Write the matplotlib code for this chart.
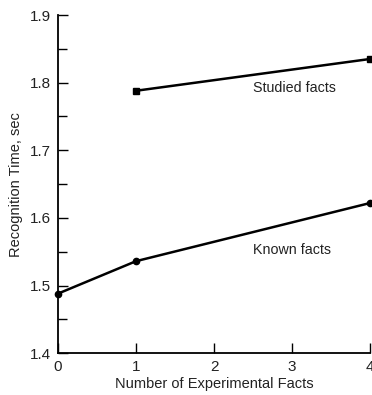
import matplotlib
matplotlib.use("Agg")
import matplotlib.pyplot as plt
from matplotlib.ticker import MultipleLocator

plt.rcParams['font.family'] = ['Liberation Sans', 'DejaVu Sans']

# Recognition time by number of experimental facts
known_x = [0, 1, 4]
known_y = [1.488, 1.536, 1.622]
studied_x = [1, 4]
studied_y = [1.788, 1.835]
x_ticks = [0, 1, 2, 3, 4]
y_ticks = [1.4, 1.5, 1.6, 1.7, 1.8, 1.9]

fig = plt.figure(figsize=(3.72, 3.95), dpi=100)
ax = fig.add_axes([0.156, 0.106, 0.839, 0.856])

ax.plot(known_x, known_y, color='black', lw=1.8, marker='o', ms=4.5,
        clip_on=False, zorder=3)
ax.plot(studied_x, studied_y, color='black', lw=1.8, marker='s', ms=4,
        clip_on=False, zorder=3)

ax.text(2.5, 1.792, 'Studied facts', fontsize=10.3, color='#222222',
        ha='left', va='center')
ax.text(2.5, 1.552, 'Known facts', fontsize=10.3, color='#222222',
        ha='left', va='center')

ax.set_xlim(0, 4)
ax.set_ylim(1.4, 1.9)
ax.set_xticks(x_ticks)
ax.set_xticklabels([str(v) for v in x_ticks])
ax.set_yticks(y_ticks)
ax.set_yticklabels([f'{v:.1f}' for v in y_ticks])
ax.yaxis.set_minor_locator(MultipleLocator(0.05))

for s in ['top', 'right']:
    ax.spines[s].set_visible(False)
for s in ['left', 'bottom']:
    ax.spines[s].set_linewidth(1.3)

ax.tick_params(axis='both', which='major', direction='in', length=7.5,
               width=1.0, labelsize=11, colors='black', labelcolor='#222222')
ax.tick_params(axis='y', which='minor', direction='in', length=6.5, width=1.0)
ax.tick_params(axis='x', pad=5)
ax.tick_params(axis='y', pad=5)

ax.set_xlabel('Number of Experimental Facts', fontsize=10.5, color='#222222',
              labelpad=2)
ax.set_ylabel('Recognition Time, sec', fontsize=10.5, color='#222222',
              labelpad=5)

fig.savefig('out.png', dpi=100)
